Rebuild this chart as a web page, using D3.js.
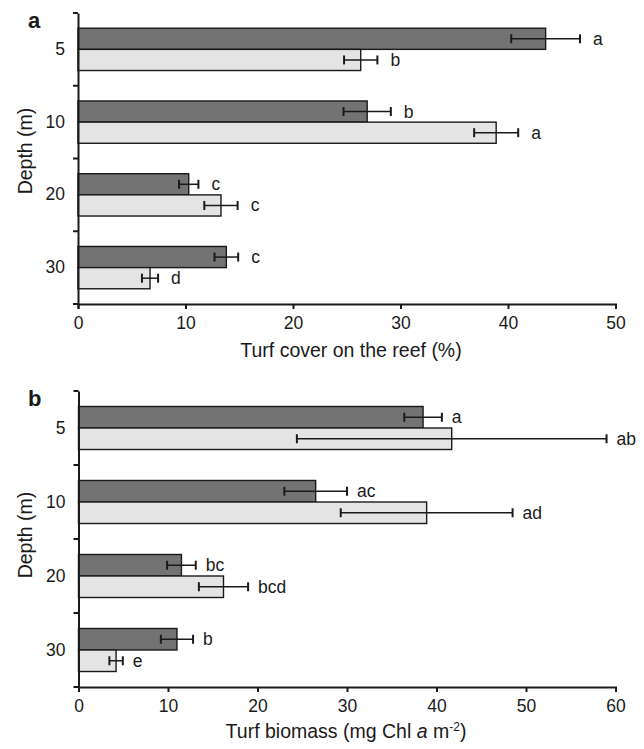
<!DOCTYPE html>
<html>
<head>
<meta charset="utf-8">
<script src="https://cdn.jsdelivr.net/npm/d3@7"></script>
<style>
  body { margin: 0; background: #fff; }
  text { font-family: "Liberation Sans", Arial, sans-serif; fill: #1a1a1a; }
</style>
</head>
<body>
<div id="graph"></div>
<script>
/* values */
const depths = ["5", "10", "20", "30"];
const groups = ["dark", "light"];

const coverDark = [43.5, 26.9, 10.3, 13.8];
const coverDarkErr = [3.2, 2.2, 0.9, 1.1];
const coverDarkLetters = ["a", "b", "c", "c"];
const coverLight = [26.3, 38.9, 13.3, 6.7];
const coverLightErr = [1.55, 2.05, 1.55, 0.75];
const coverLightLetters = ["b", "a", "c", "d"];
const coverTicks = [0, 10, 20, 30, 40, 50];

const bioDark = [38.5, 26.5, 11.5, 11.0];
const bioDarkErr = [2.1, 3.5, 1.6, 1.8];
const bioDarkLetters = ["a", "ac", "bc", "b"];
const bioLight = [41.7, 38.9, 16.2, 4.2];
const bioLightErr = [17.3, 9.6, 2.75, 0.75];
const bioLightLetters = ["ab", "ad", "bcd", "e"];
const bioTicks = [0, 10, 20, 30, 40, 50, 60];

const W = 644, H = 749;
const fills = { dark: "#737373", light: "#e4e4e4" };

const svg = d3.select("#graph").append("svg").attr("width", W).attr("height", H);

function rows(dark, darkErr, darkLet, light, lightErr, lightLet) {
    const out = [];
    depths.forEach((d, i) => {
        out.push({ depth: d, group: "dark", v: dark[i], e: darkErr[i], l: darkLet[i] });
        out.push({ depth: d, group: "light", v: light[i], e: lightErr[i], l: lightLet[i] });
    });
    return out;
}

function panel(opt) {
    const g = svg.append("g");
    const x = d3.scaleLinear().domain([0, d3.max(opt.ticks)]).range([opt.x0, opt.x1]);
    const y = d3.scaleBand().domain(depths).range([opt.y0, opt.y1]);
    const sub = d3.scaleBand().domain(groups).range([0, y.bandwidth()]).paddingOuter(0.72);

    const bars = g.selectAll(".bar").data(opt.data).enter().append("g")
        .attr("transform", d => "translate(0," + (y(d.depth) + sub(d.group)) + ")");

    bars.append("rect")
        .attr("x", x(0))
        .attr("width", d => x(d.v) - x(0))
        .attr("height", sub.bandwidth())
        .attr("fill", d => fills[d.group])
        .attr("stroke", "#1a1a1a")
        .attr("stroke-width", 1.4);

    const cy = sub.bandwidth() / 2;
    const cap = 4.5;
    bars.append("line")
        .attr("x1", d => x(d.v - d.e)).attr("x2", d => x(d.v + d.e))
        .attr("y1", cy).attr("y2", cy)
        .attr("stroke", "#1a1a1a").attr("stroke-width", 1.5);
    bars.append("line")
        .attr("x1", d => x(d.v - d.e)).attr("x2", d => x(d.v - d.e))
        .attr("y1", cy - cap).attr("y2", cy + cap)
        .attr("stroke", "#1a1a1a").attr("stroke-width", 2);
    bars.append("line")
        .attr("x1", d => x(d.v + d.e)).attr("x2", d => x(d.v + d.e))
        .attr("y1", cy - cap).attr("y2", cy + cap)
        .attr("stroke", "#1a1a1a").attr("stroke-width", 2);
    bars.append("text")
        .attr("x", d => x(d.v + d.e) + opt.gap)
        .attr("y", cy + 6)
        .style("font-size", "17.5px")
        .text(d => d.l);

    /* axes */
    const xAxis = g.append("g")
        .attr("transform", "translate(0," + opt.y1 + ")")
        .call(d3.axisBottom(x).tickValues(opt.ticks).tickSize(5).tickSizeOuter(5).tickPadding(8));
    const yAxis = g.append("g")
        .attr("transform", "translate(" + opt.x0 + ",0)")
        .call(d3.axisLeft(y).tickSize(0).tickPadding(13));
    // boundary ticks between depth groups
    const bounds = depths.map(d => y(d)).concat([opt.y1]);
    yAxis.selectAll(".bound").data(bounds).enter().append("line")
        .attr("x1", -5).attr("x2", 0)
        .attr("y1", d => d).attr("y2", d => d)
        .attr("stroke", "#1a1a1a").attr("stroke-width", 2);

    [xAxis, yAxis].forEach(a => {
        a.select(".domain").attr("stroke", "#1a1a1a").attr("stroke-width", 2);
        a.selectAll(".tick line").attr("stroke", "#1a1a1a").attr("stroke-width", 2);
        a.selectAll(".tick text").style("font-size", "17.5px").attr("fill", "#1a1a1a")
            .style("font-family", "'Liberation Sans', Arial, sans-serif");
    });

    g.append("text")
        .attr("transform", "translate(32," + opt.depthY + ") rotate(-90)")
        .style("text-anchor", "middle")
        .style("font-size", "19.5px")
        .text("Depth (m)");

    g.append("text")
        .attr("x", 28).attr("y", opt.letterY)
        .style("font-size", "22px").style("font-weight", "bold")
        .text(opt.letter);

    return { g, x };
}

const a = panel({
    data: rows(coverDark, coverDarkErr, coverDarkLetters, coverLight, coverLightErr, coverLightLetters),
    ticks: coverTicks, x0: 78, x1: 615.5, y0: 13, y1: 304, gap: 13,
    depthY: 151, letter: "a", letterY: 28
});
a.g.append("text")
    .attr("x", 351).attr("y", 357)
    .style("text-anchor", "middle").style("font-size", "19.5px")
    .text("Turf cover on the reef (%)");

const b = panel({
    data: rows(bioDark, bioDarkErr, bioDarkLetters, bioLight, bioLightErr, bioLightLetters),
    ticks: bioTicks, x0: 78.5, x1: 615.5, y0: 391, y1: 687, gap: 10,
    depthY: 535, letter: "b", letterY: 406
});
const t = b.g.append("text")
    .attr("x", 346).attr("y", 738)
    .style("text-anchor", "middle").style("font-size", "19.5px");
t.append("tspan").text("Turf biomass (mg Chl ");
t.append("tspan").style("font-style", "italic").text("a");
t.append("tspan").text(" m");
t.append("tspan").attr("dy", -7).style("font-size", "12px").text("-2");
t.append("tspan").attr("dy", 7).text(")");
</script>
</body>
</html>
